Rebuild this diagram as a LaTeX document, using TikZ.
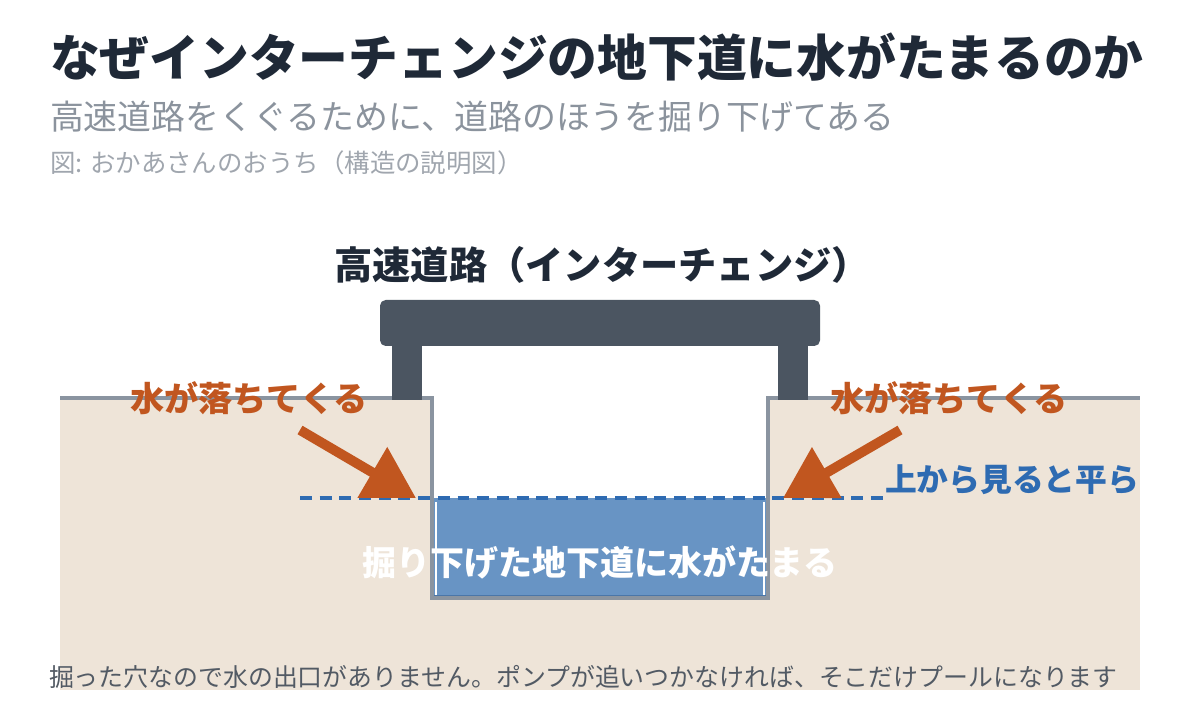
\documentclass[tikz,border=0pt]{standalone}
\usepackage{fontspec}
\setmainfont{Noto Sans CJK JP}
\usepackage{xcolor}
\usetikzlibrary{arrows.meta}
\definecolor{inkdark}{HTML}{1F2937}
\definecolor{subgray}{HTML}{8B939D}
\definecolor{capgray}{HTML}{A0A6AE}
\definecolor{footgray}{HTML}{525A64}
\definecolor{groundbeige}{HTML}{EEE4D8}
\definecolor{edgegray}{HTML}{8A94A0}
\definecolor{roadslate}{HTML}{4B5561}
\definecolor{droporange}{HTML}{C1561F}
\definecolor{levelblue}{HTML}{2E6BB2}
\definecolor{poolblue}{HTML}{6894C4}
\definecolor{pooledge}{HTML}{4A76A8}

\begin{document}
\begin{tikzpicture}[x=0.025cm, y=-0.025cm,
  every node/.style={inner sep=0pt, outer sep=0pt},
  fallarrow/.style={droporange, line width=7pt,
    -{Triangle[length=36pt, width=40pt]}, shorten >=0pt}]
  \useasboundingbox (0,0) rectangle (1200,720);

  % Title block
  \node[anchor=west, font=\fontsize{35.4}{40}\selectfont\bfseries, text=inkdark] (title) at (50,57)
    {なぜインターチェンジの地下道に水がたまるのか};
  \node[anchor=west, font=\fontsize{24.1}{28}\selectfont, text=subgray] (subtitle) at (50,117)
    {高速道路をくぐるために、道路のほうを掘り下げてある};
  \node[anchor=west, font=\fontsize{18.1}{21}\selectfont, text=capgray] (credit) at (50,163)
    {図: おかあさんのおうち（構造の説明図）};

  % Ground with the dug-out trench
  \fill[groundbeige] (60,398) rectangle (1140,690);
  \fill[white] (432,398) rectangle (768,498);
  \fill[poolblue] (432,498) rectangle (768,598);
  \draw[pooledge, line width=2pt] (434,596) -- (766,596);
  \draw[white, line width=1.5pt] (436,502) -- (436,595);
  \draw[white, line width=1.5pt] (764,502) -- (764,595);
  \draw[edgegray, line width=2.5pt] (60,398) -- (432,398) -- (432,598)
    -- (768,598) -- (768,398) -- (1140,398);

  % Highway deck and pillars
  \node[font=\fontsize{27.2}{31}\selectfont\bfseries, text=inkdark] (highway) at (602,265)
    {高速道路（インターチェンジ）};
  \fill[roadslate] (392,340) rectangle (422,400);
  \fill[roadslate] (778,340) rectangle (808,400);
  \fill[roadslate, rounded corners=4pt] (380,300) rectangle (820,346);

  % Flat-looking level line
  \draw[levelblue, line width=2.4pt, dash pattern=on 8.5pt off 5.5pt] (300,498) -- (890,498);
  \node[anchor=west, font=\fontsize{22.6}{26}\selectfont\bfseries, text=levelblue] (flat) at (885,480)
    {上から見ると平ら};

  % Water falling in from both sides
  \node[font=\fontsize{24.3}{28}\selectfont\bfseries, text=droporange] (fallL) at (249,398)
    {水が落ちてくる};
  \node[font=\fontsize{24.3}{28}\selectfont\bfseries, text=droporange] (fallR) at (949,398)
    {水が落ちてくる};
  \coordinate (tailL) at (300,430);
  \coordinate (tipL) at (416,498);
  \coordinate (tailR) at (900,430);
  \coordinate (tipR) at (783,498);
  \draw[fallarrow] (tailL) -- (tipL);
  \draw[fallarrow] (tailR) -- (tipR);

  % Pool label and footnote
  \node[font=\fontsize{24.2}{28}\selectfont\bfseries, text=white] (pool) at (600,562)
    {掘り下げた地下道に水がたまる};
  \node[anchor=west, font=\fontsize{17.7}{20}\selectfont, text=footgray] (note) at (49,677)
    {掘った穴なので水の出口がありません。ポンプが追いつかなければ、そこだけプールになります};
\end{tikzpicture}
\end{document}
